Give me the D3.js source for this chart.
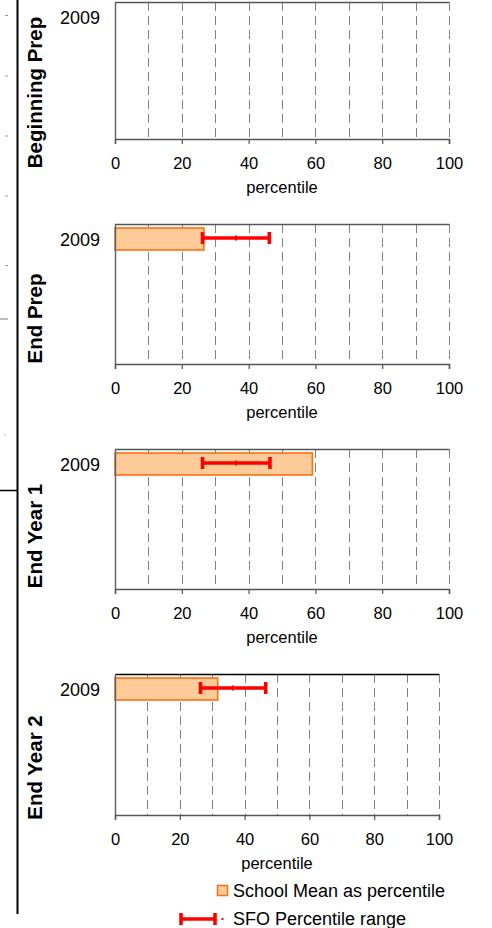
<!DOCTYPE html>
<html>
<head>
<meta charset="utf-8">
<script src="https://cdn.jsdelivr.net/npm/d3@7"></script>
<style>
  html, body { margin: 0; padding: 0; background: #fff; }
  svg { display: block; }
  text { font-family: "Liberation Sans", Arial, Helvetica, sans-serif; fill: #000; }
</style>
</head>
<body>
<svg id="chart" width="492" height="928"></svg>
<script>
// ---------------- data ----------------
const panelNames = ["Beginning Prep", "End Prep", "End Year 1", "End Year 2"];
const years = ["2009"];
const schoolMean = [null, 26.6, 59.1, 31.7];   // school mean as percentile
const sfoLow = [null, 26.2, 26.2, 26.4];       // SFO percentile range low
const sfoHigh = [null, 46.2, 46.4, 46.5];      // SFO percentile range high
const xTicks = [0, 20, 40, 60, 80, 100];
const gridTicks = [10, 20, 30, 40, 50, 60, 70, 80, 90, 100];
const axisTitle = "percentile";
const legendLabels = ["School Mean as percentile", "SFO Percentile range"];

// ---------------- layout ----------------
const layout = [
  { top: 2,   bottom: 139, left: 115, right: 449, labelY: 92.5, topColor: "#555" },
  { top: 224, bottom: 364, left: 115, right: 449, labelY: 318.5, topColor: "#555" },
  { top: 449, bottom: 589, left: 115, right: 449, labelY: 536, topColor: "#555" },
  { top: 674, bottom: 815, left: 115, right: 439, labelY: 767.5, topColor: "#000" }
];
const font = '"Liberation Sans", Arial, Helvetica, sans-serif';
const svg = d3.select("#chart");

// page decorations (cropped page frame at left)
const deco = svg.append("g");
deco.append("line").attr("x1", 17.5).attr("x2", 17.5).attr("y1", 0).attr("y2", 914)
  .attr("stroke", "#000").attr("stroke-width", 2);
[15.5, 76, 136, 196, 265.5].forEach(y => {
  deco.append("line").attr("x1", 5).attr("x2", 8).attr("y1", y).attr("y2", y)
    .attr("stroke", "#999").attr("stroke-width", 1);
});
deco.append("line").attr("x1", 0).attr("x2", 8).attr("y1", 319).attr("y2", 319)
  .attr("stroke", "#777").attr("stroke-width", 1);
deco.append("line").attr("x1", 4).attr("x2", 6).attr("y1", 435).attr("y2", 435)
  .attr("stroke", "#bbb").attr("stroke-width", 1);
deco.append("line").attr("x1", 0).attr("x2", 17).attr("y1", 490.5).attr("y2", 490.5)
  .attr("stroke", "#000").attr("stroke-width", 1.5);

panelNames.forEach((name, i) => {
  const L = layout[i];
  const g = svg.append("g");
  const x = d3.scaleLinear().domain([0, 100]).range([L.left, L.right]);
  const y = d3.scaleBand().domain(years).range([L.top + 4, L.top + 26]).padding(0);

  // dashed gridlines
  g.append("g").selectAll("line").data(gridTicks).join("line")
    .attr("x1", d => Math.round(x(d)) + 0.5).attr("x2", d => Math.round(x(d)) + 0.5)
    .attr("y1", L.top).attr("y2", L.bottom)
    .attr("stroke", "#808080").attr("stroke-width", 1)
    .attr("stroke-dasharray", "9,5");

  // top border
  g.append("line").attr("x1", L.left).attr("x2", x(100)).attr("y1", L.top + 0.5).attr("y2", L.top + 0.5)
    .attr("stroke", L.topColor).attr("stroke-width", 1.3);

  // bars
  const rows = years.map(yr => ({ yr, v: schoolMean[i], lo: sfoLow[i], hi: sfoHigh[i] }))
    .filter(d => d.v != null);
  g.append("g").selectAll("rect").data(rows).join("rect")
    .attr("x", x(0)).attr("y", d => y(d.yr))
    .attr("width", d => x(d.v) - x(0)).attr("height", y.bandwidth())
    .attr("fill", "#FFCC99").attr("stroke", "#FF6E10").attr("stroke-width", 1.6);

  // left axis line
  g.append("line").attr("x1", L.left + 0.5).attr("x2", L.left + 0.5).attr("y1", L.top).attr("y2", L.bottom)
    .attr("stroke", "#666").attr("stroke-width", 1.5);

  // error bars
  const eb = g.append("g").selectAll("g").data(rows).join("g");
  const cy = d => y(d.yr) + y.bandwidth() / 2 - 1;
  eb.append("line").attr("x1", d => x(d.lo)).attr("x2", d => x(d.hi))
    .attr("y1", cy).attr("y2", cy).attr("stroke", "#FF0000").attr("stroke-width", 3.5);
  eb.append("line").attr("x1", d => x(d.lo)).attr("x2", d => x(d.lo))
    .attr("y1", d => cy(d) - 6).attr("y2", d => cy(d) + 6).attr("stroke", "#FF0000").attr("stroke-width", 3.6);
  eb.append("line").attr("x1", d => x(d.hi)).attr("x2", d => x(d.hi))
    .attr("y1", d => cy(d) - 6).attr("y2", d => cy(d) + 6).attr("stroke", "#FF0000").attr("stroke-width", 3.6);
  eb.append("rect").attr("x", d => x((d.lo + d.hi) / 2) - 1).attr("y", d => cy(d) - 2.5)
    .attr("width", 2).attr("height", 5).attr("fill", "#FF0000");

  // bottom axis
  const ax = g.append("g").attr("transform", `translate(0,${L.bottom})`)
    .call(d3.axisBottom(x).tickValues(xTicks).tickSize(5).tickPadding(12).tickFormat(d3.format("d")));
  ax.select(".domain").attr("stroke", "#555").attr("stroke-width", 1.5);
  ax.selectAll(".tick line").attr("stroke", "#555").attr("stroke-width", 1.2);
  ax.selectAll(".tick text").attr("font-family", font).attr("font-size", 16.5).attr("fill", "#000")
    .attr("dy", null).attr("y", 30);

  // axis title
  g.append("text").attr("x", (L.left + L.right) / 2).attr("y", L.bottom + 53.5)
    .attr("text-anchor", "middle").attr("font-size", 16.5).text(axisTitle);

  // category (year) labels
  g.append("g").selectAll("text").data(years).join("text")
    .attr("x", 100).attr("y", d => y(d) + y.bandwidth() / 2 + 6.5)
    .attr("text-anchor", "end").attr("font-size", 18).text(d => d);

  // panel name
  g.append("text").attr("transform", `translate(42,${L.labelY}) rotate(-90)`)
    .attr("text-anchor", "middle").attr("font-size", 20.5).attr("font-weight", "bold").text(name);
});

// legend
const lg = svg.append("g");
lg.append("rect").attr("x", 217.5).attr("y", 885.5).attr("width", 10).attr("height", 10)
  .attr("fill", "#FFCC99").attr("stroke", "#FF6E10").attr("stroke-width", 1.5);
lg.append("text").attr("x", 233).attr("y", 897).attr("font-size", 18).text(legendLabels[0]);
lg.append("line").attr("x1", 181).attr("x2", 215).attr("y1", 919).attr("y2", 919)
  .attr("stroke", "#FF0000").attr("stroke-width", 3.5);
lg.append("line").attr("x1", 181).attr("x2", 181).attr("y1", 913).attr("y2", 925)
  .attr("stroke", "#FF0000").attr("stroke-width", 3.6);
lg.append("line").attr("x1", 215).attr("x2", 215).attr("y1", 913).attr("y2", 925)
  .attr("stroke", "#FF0000").attr("stroke-width", 3.6);
lg.append("rect").attr("x", 221.5).attr("y", 918).attr("width", 2).attr("height", 2).attr("fill", "#FF0000");
lg.append("text").attr("x", 233).attr("y", 924.5).attr("font-size", 18).text(legendLabels[1]);
</script>
</body>
</html>
